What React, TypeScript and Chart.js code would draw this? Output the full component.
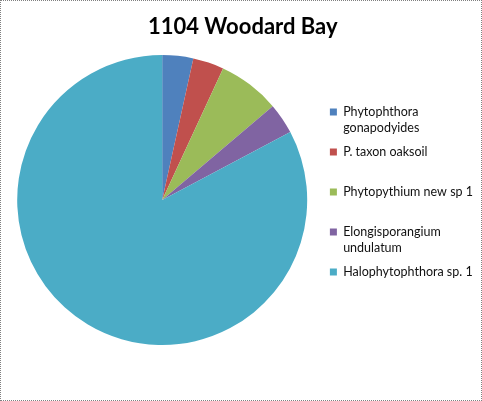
import { useEffect, useRef } from 'react';
import Chart from 'chart.js/auto';

// species found at the site (multi-line labels as the legend wraps them)
const species: (string | string[])[] = [
    ['Phytophthora', 'gonapodyides'],
    ['P. taxon oaksoil', ''],
    ['Phytopythium new sp 1', ''],
    ['Elongisporangium', 'undulatum'],
    'Halophytophthora sp. 1',
];
// isolate counts per species
const counts = [1, 1, 2, 1, 24];
const sliceColors = ['#4F81BD', '#C0504D', '#9BBB59', '#8064A2', '#4BACC6'];
const chartTitle = '1104 Woodard Bay';

const App = () => {
    const chartRef = useRef<HTMLCanvasElement>(null);

    useEffect(() => {
        document.body.style.margin = '0';
        if (!chartRef.current) return;
        const ctx = chartRef.current.getContext('2d');
        if (!ctx) return;

        const myChart = new Chart(ctx, {
            type: 'pie',
            data: {
                labels: species,
                datasets: [{
                    data: counts,
                    backgroundColor: sliceColors,
                    borderWidth: 0,
                }],
            },
            options: {
                animation: false,
                responsive: true,
                maintainAspectRatio: false,
                layout: {
                    padding: { left: 1.5, right: -2, top: 0, bottom: 55 },
                },
                plugins: {
                    title: {
                        display: true,
                        text: chartTitle,
                        color: '#000',
                        font: { family: 'Lato', size: 22, weight: 'bold', lineHeight: '26px' },
                        padding: { top: 13, bottom: 15 },
                    },
                    legend: {
                        position: 'right',
                        // empty legend title only used to push the items down
                        title: {
                            display: true,
                            text: '',
                            font: { size: 8, lineHeight: '8px' },
                            padding: { top: 30, bottom: 0 },
                        },
                        labels: {
                            boxWidth: 7,
                            boxHeight: 7,
                            padding: 8,
                            color: '#111',
                            font: { family: 'Lato', size: 12.5, lineHeight: '16px' },
                        },
                    },
                    tooltip: { enabled: false },
                },
            },
        });
        return () => {
            myChart.destroy();
        };
    }, []);

    return (
        <div style={{
            position: 'absolute', left: 0, top: 0, width: 482, height: 401,
            boxSizing: 'border-box', border: '1px dotted #808080', background: '#fff',
        }}>
            <canvas ref={chartRef} />
        </div>
    );
};

export default App;
